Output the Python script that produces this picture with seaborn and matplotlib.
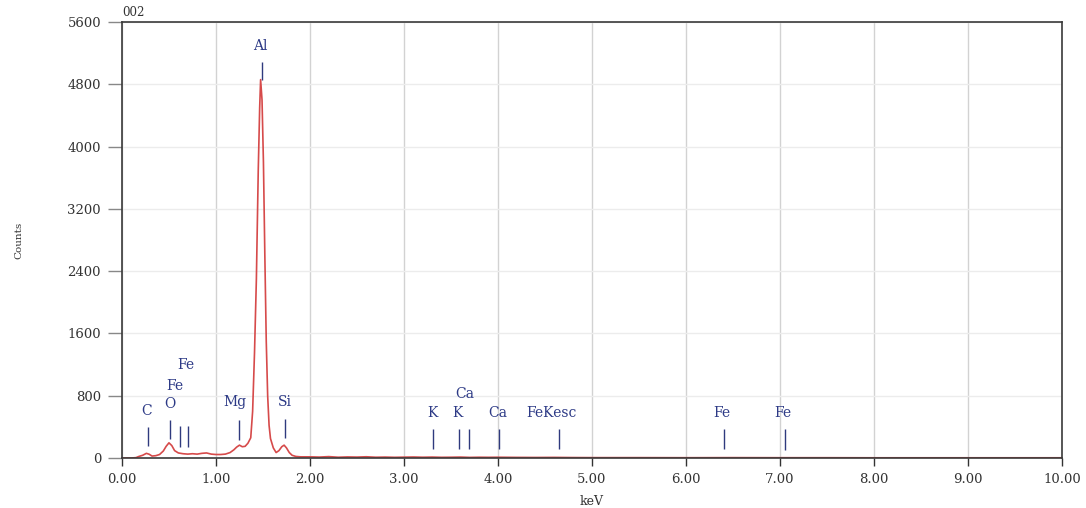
import matplotlib
matplotlib.use("Agg")
import matplotlib.pyplot as plt
import seaborn as sns
import pandas as pd
import numpy as np

# ---- spectrum data (keV, counts) ----
energy = [0.00, 0.10, 0.15, 0.18, 0.22, 0.26, 0.29, 0.32, 0.36, 0.40, 0.44, 0.47, 0.50,
          0.53, 0.56, 0.60, 0.65, 0.70, 0.75, 0.80, 0.85, 0.90, 0.95, 1.00, 1.05, 1.10,
          1.15, 1.19, 1.22, 1.25, 1.28, 1.31, 1.34, 1.37, 1.39, 1.41, 1.43, 1.45, 1.465,
          1.475, 1.49, 1.505, 1.52, 1.535, 1.55, 1.565, 1.58, 1.61, 1.64, 1.67, 1.70,
          1.725, 1.75, 1.78, 1.81, 1.85, 1.90, 2.00, 2.10, 2.20, 2.30, 2.40, 2.50, 2.60,
          2.70, 2.80, 2.90, 3.00, 3.10, 3.20, 3.30, 3.40, 3.50, 3.60, 3.70, 3.80, 3.90,
          4.00, 4.20, 4.40, 4.60, 4.80, 5.00, 5.50, 6.00, 6.50, 7.00, 7.50, 8.00, 8.50,
          9.00, 9.50, 10.00]
counts = [0, 0, 5, 20, 35, 60, 48, 25, 30, 45, 90, 150, 195,
          160, 95, 65, 55, 50, 55, 50, 60, 65, 50, 45, 45, 50,
          70, 105, 140, 165, 145, 150, 190, 260, 600, 1350, 2300, 3700, 4500,
          4860, 4600, 3800, 2600, 1500, 800, 420, 250, 130, 70, 95, 145,
          165, 130, 70, 35, 20, 15, 15, 12, 18, 10, 14, 12, 16,
          10, 12, 9, 11, 13, 10, 12, 9, 10, 12, 8, 10, 9,
          10, 8, 7, 8, 6, 5, 5, 4, 5, 4, 4, 3, 3,
          3, 3, 3]

# ---- element markers ----
marker_x = [0.28, 0.515, 0.617, 0.705, 1.25, 1.486, 1.73, 3.31, 3.59, 3.69, 4.01, 4.65, 6.40, 7.05]
marker_lo = [150, 250, 140, 140, 230, 4860, 260, 115, 115, 115, 115, 115, 115, 100]
marker_hi = [400, 490, 410, 410, 490, 5080, 500, 370, 370, 370, 370, 370, 370, 370]

# ---- element labels ----
label_text = ["C", "O", "Fe", "Fe", "Mg", "Al", "Si", "K", "K", "Ca", "Ca", "FeKesc", "Fe", "Fe"]
label_x = [0.26, 0.51, 0.56, 0.68, 1.20, 1.47, 1.73, 3.30, 3.57, 3.65, 4.00, 4.57, 6.38, 7.03]
label_y = [610, 700, 930, 1190, 720, 5290, 720, 575, 575, 820, 575, 575, 575, 575]

x_ticks = [0, 1, 2, 3, 4, 5, 6, 7, 8, 9, 10]
y_ticks = [0, 800, 1600, 2400, 3200, 4000, 4800, 5600]

sns.set_style("whitegrid")
plt.rcParams["font.family"] = ["DejaVu Serif"]

fig = plt.figure(figsize=(10.86, 5.08), dpi=100)
ax = fig.add_axes([0.1123, 0.0984, 0.8656, 0.8583])

df = pd.DataFrame({"keV": energy, "Counts": counts})
sns.lineplot(data=df, x="keV", y="Counts", ax=ax, color="#d64a4a", linewidth=1.2,
             estimator=None, sort=False)

ax.vlines(marker_x, marker_lo, marker_hi, color="#2f3a7e", linewidth=1.0)
for t, x, y in zip(label_text, label_x, label_y):
    ax.text(x, y, t, color="#2d3a86", fontsize=10, ha="center", va="center")

ax.set_xlim(0, 10)
ax.set_ylim(0, 5600)
ax.set_xticks(x_ticks)
ax.set_xticklabels([f"{v:.2f}" for v in x_ticks])
ax.set_yticks(y_ticks)
ax.set_yticklabels([str(v) for v in y_ticks])

ax.grid(True, axis="x", color="#d2d2d2", linewidth=1.0)
ax.grid(True, axis="y", color="#ececec", linewidth=1.0)
for s in ax.spines.values():
    s.set_visible(True)
    s.set_color("#3a3a3a")
    s.set_linewidth(1.2)

ax.tick_params(axis="x", direction="out", length=6, width=1.0, color="#333333",
               labelsize=9.5, labelcolor="#333333", pad=5, bottom=True)
ax.tick_params(axis="y", direction="out", length=10, width=1.0, color="#888888",
               labelsize=9.5, labelcolor="#333333", pad=5, left=True)

ax.set_xlabel("keV", fontsize=9, color="#333333", labelpad=6)
ax.set_ylabel("Counts", fontsize=7.5, color="#333333", labelpad=32)
ax.text(0.0, 1.008, "002", transform=ax.transAxes, fontsize=8.5, color="#333333",
        ha="left", va="bottom")

fig.savefig("out.png", dpi=100)
